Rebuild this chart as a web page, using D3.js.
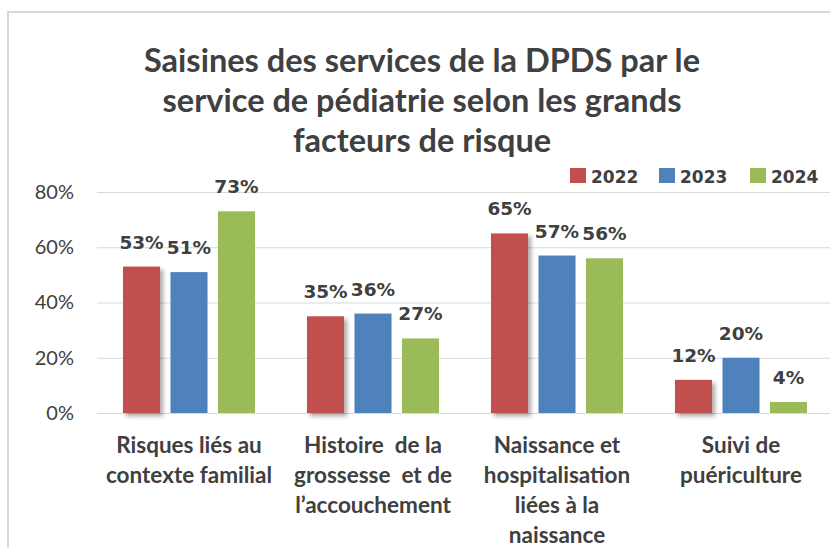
<!DOCTYPE html>
<html>
<head>
<meta charset="utf-8">
<script src="https://cdn.jsdelivr.net/npm/d3@7"></script>
<style>
  html, body { margin: 0; padding: 0; background: #fff; }
  svg { display: block; }
</style>
</head>
<body>
<script>
var categories = [
  ['Risques liés au', 'contexte familial'],
  ['Histoire  de la', 'grossesse  et de', 'l’accouchement'],
  ['Naissance et', 'hospitalisation', 'liées à la', 'naissance'],
  ['Suivi de', 'puériculture']
];
var years = ['2022', '2023', '2024'];
var values2022 = [53, 35, 65, 12];
var values2023 = [51, 36, 57, 20];
var values2024 = [73, 27, 56, 4];
var yTicks = [0, 20, 40, 60, 80];
var colors = ['#C0504D', '#4F81BD', '#9BBB59'];
var titleLines = [
  'Saisines des services de la DPDS par le',
  'service de pédiatrie selon les grands',
  'facteurs de risque'
];

var series = [values2022, values2023, values2024];
var width = 830, height = 548;
var margin = { top: 192, left: 97, bottom: 135 };

var svg = d3.select(document.body).append('svg')
    .attr('width', width)
    .attr('height', height);

var defs = svg.append('defs');
defs.append('filter')
    .attr('id', 'shadow')
    .attr('x', '-20%').attr('y', '-20%')
    .attr('width', '150%').attr('height', '150%')
  .append('feDropShadow')
    .attr('dx', 3).attr('dy', 3)
    .attr('stdDeviation', 2)
    .attr('flood-color', '#000')
    .attr('flood-opacity', 0.35);

// chart frame
svg.append('path')
    .attr('d', 'M8,548V12H830')
    .attr('fill', 'none')
    .attr('stroke', '#d9d9d9')
    .attr('stroke-width', 2);

// title
svg.append('g').selectAll('text')
    .data(titleLines)
  .enter().append('text')
    .attr('x', 422)
    .attr('y', function(d, i) { return 72 + i * 40; })
    .attr('text-anchor', 'middle')
    .attr('font-family', 'Lato, sans-serif')
    .attr('font-weight', 'bold')
    .attr('font-size', 32.5)
    .attr('fill', '#404040')
    .text(function(d) { return d; });

var keys = d3.range(categories.length);
var x0 = d3.scaleBand().domain(keys).range([margin.left, 833]);
var x1 = d3.scaleBand().domain(years).range([26, 158]).paddingInner(0.22);
var y = d3.scaleLinear().domain([0, 80]).range([413, 192]);

// grid + y labels
var yAxis = svg.append('g')
    .attr('transform', 'translate(' + margin.left + ',0)')
    .call(d3.axisLeft(y).tickValues(yTicks)
        .tickSize(-(830 - margin.left))
        .tickPadding(23)
        .tickFormat(function(d) { return d + '%'; }));
yAxis.select('.domain').remove();
yAxis.selectAll('.tick line').attr('stroke', '#d9d9d9');
yAxis.selectAll('.tick text')
    .attr('font-family', 'Lato, sans-serif')
    .attr('font-size', 20)
    .attr('fill', '#404040');

// bars
var groups = svg.append('g').selectAll('g')
    .data(keys)
  .enter().append('g')
    .attr('transform', function(k) { return 'translate(' + x0(k) + ',0)'; });

groups.selectAll('rect')
    .data(function(k) {
      return years.map(function(yr, j) { return { year: yr, j: j, v: series[j][k] }; });
    })
  .enter().append('rect')
    .attr('x', function(d) { return x1(d.year); })
    .attr('y', function(d) { return y(d.v); })
    .attr('width', x1.bandwidth())
    .attr('height', function(d) { return y(0) - y(d.v); })
    .attr('fill', function(d) { return colors[d.j]; })
    .attr('filter', function(d) { return d.j === 0 ? 'url(#shadow)' : null; });

groups.selectAll('text.val')
    .data(function(k) {
      return years.map(function(yr, j) { return { year: yr, j: j, v: series[j][k] }; });
    })
  .enter().append('text')
    .attr('class', 'val')
    .attr('x', function(d) { return x1(d.year) + x1.bandwidth() / 2; })
    .attr('y', function(d) { return y(d.v) - 18; })
    .attr('text-anchor', 'middle')
    .attr('font-family', 'DejaVu Sans, sans-serif')
    .attr('font-weight', 'bold')
    .attr('font-size', 18.5)
    .attr('fill', '#404040')
    .text(function(d) { return d.v + '%'; });

// category labels
var catLabels = svg.append('g').selectAll('text')
    .data(keys)
  .enter().append('text')
    .attr('x', function(k) { return x0(k) + x0.bandwidth() / 2; })
    .attr('text-anchor', 'middle')
    .attr('font-family', 'Lato, sans-serif')
    .attr('font-weight', 'bold')
    .attr('font-size', 22.5)
    .attr('fill', '#404040');
catLabels.selectAll('tspan')
    .data(function(k) { return categories[k]; })
  .enter().append('tspan')
    .attr('x', function() { return d3.select(this.parentNode).attr('x'); })
    .attr('y', function(d, i) { return 453 + i * 30; })
    .style('white-space', 'pre')
    .text(function(d) { return d; });

// legend
var legendX = [570, 659, 750];
var legend = svg.append('g').selectAll('g')
    .data(years)
  .enter().append('g')
    .attr('transform', function(d, i) { return 'translate(' + legendX[i] + ',168)'; });
legend.append('rect')
    .attr('width', 16).attr('height', 15)
    .attr('fill', function(d, i) { return colors[i]; });
legend.append('text')
    .attr('x', 21).attr('y', 15)
    .attr('font-family', 'DejaVu Sans, sans-serif')
    .attr('font-weight', 'bold')
    .attr('font-size', 17)
    .attr('fill', '#404040')
    .text(function(d) { return d; });
</script>
</body>
</html>
